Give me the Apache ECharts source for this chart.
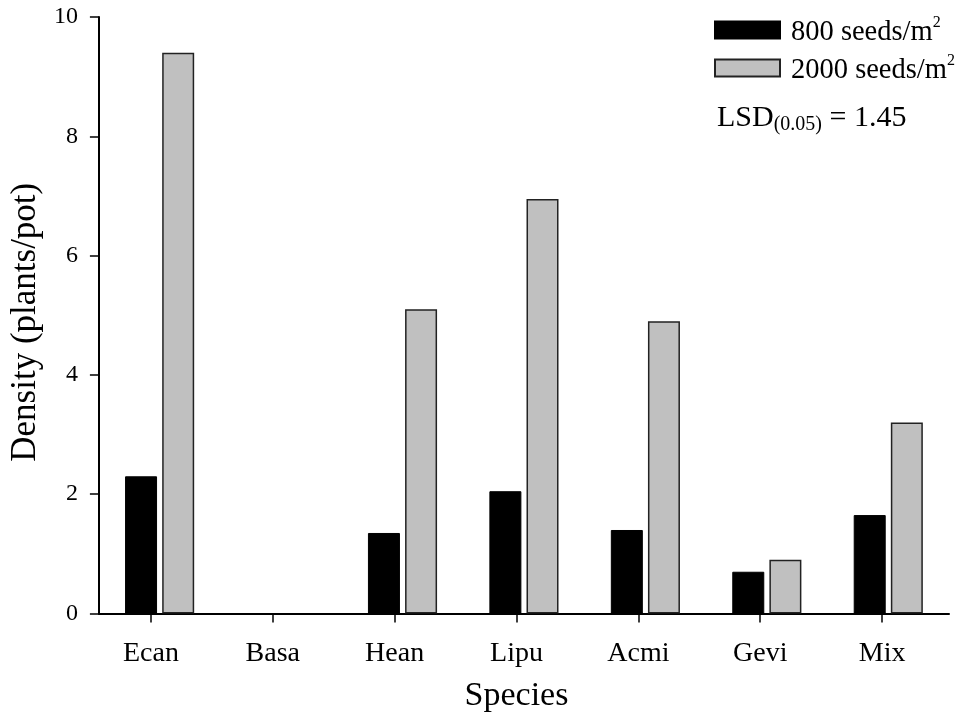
<!DOCTYPE html>
<html>
<head>
<meta charset="utf-8">
<script src="https://cdn.jsdelivr.net/npm/echarts@6/dist/echarts.min.js"></script>
<style>
  html, body { margin: 0; padding: 0; background: #fff; }
  #chart { width: 957px; height: 721px; }
</style>
</head>
<body>
<div id="chart"></div>
<script>
// Seedling density by species at two sowing rates
const categories = ['Ecan', 'Basa', 'Hean', 'Lipu', 'Acmi', 'Gevi', 'Mix'];
const lowRate = [2.3, 0, 1.35, 2.05, 1.4, 0.7, 1.65];   // 800 seeds/m²
const highRate = [9.4, 0, 5.1, 6.95, 4.9, 0.9, 3.2];    // 2000 seeds/m²
const seriesNames = ['800 seeds/m²', '2000 seeds/m²'];
const yTicks = { min: 0, max: 10, interval: 2 };
const lsdText = { label: 'LSD', sub: '(0.05)', value: ' = 1.45' };

const FONT = 'Liberation Serif, Times New Roman, serif';

const chart = echarts.init(document.getElementById('chart'), null, { renderer: 'canvas' });

const gridTop = 17, gridBottom = 107.5;

// zero-height bars get no outline
function barData(values) {
  return values.map(function (v) {
    return v === 0 ? { value: v, itemStyle: { borderWidth: 0 } } : v;
  });
}

chart.setOption({
  backgroundColor: '#ffffff',
  animation: false,
  textStyle: { fontFamily: FONT, color: '#000' },
  grid: [
    { left: 96, right: 8, top: gridTop, bottom: gridBottom },
    // tick/label grid, shifted slightly left of the bar groups
    { left: 90, right: 14, top: gridTop, bottom: gridBottom }
  ],
  legend: {
    orient: 'vertical',
    left: 709,
    top: 7.5,
    itemWidth: 65,
    itemHeight: 17,
    itemGap: 3,
    icon: 'rect',
    data: seriesNames,
    formatter: function (name) {
      return '{t|' + name.replace('²', '') + '}{s|2}';
    },
    textStyle: {
      fontFamily: FONT,
      color: '#000',
      rich: {
        t: { fontFamily: FONT, fontSize: 28.5, lineHeight: 30, color: '#000', padding: [6, 0, 0, 6] },
        s: { fontFamily: FONT, fontSize: 16, lineHeight: 13, verticalAlign: 'top', color: '#000' }
      }
    }
  },
  xAxis: [
    {
      type: 'category',
      gridIndex: 0,
      data: categories,
      axisLine: { show: true, lineStyle: { color: '#000', width: 2 } },
      axisTick: { show: false },
      axisLabel: { show: false }
    },
    {
      type: 'category',
      gridIndex: 1,
      data: categories,
      axisLine: { show: false },
      axisTick: { show: true, alignWithLabel: true, length: 9, lineStyle: { color: '#000', width: 1.5 } },
      axisLabel: { fontFamily: FONT, fontSize: 28, color: '#000', margin: 26 },
      name: 'Species',
      nameLocation: 'middle',
      nameGap: 66,
      nameTextStyle: { fontFamily: FONT, fontSize: 34, color: '#000' }
    }
  ],
  yAxis: [
    {
      type: 'value',
      gridIndex: 0,
      min: yTicks.min,
      max: yTicks.max,
      interval: yTicks.interval,
      axisLine: { show: true, lineStyle: { color: '#000', width: 2 } },
      axisTick: { show: true, inside: false, length: 9, lineStyle: { color: '#000', width: 1.5 } },
      axisLabel: { fontFamily: FONT, fontSize: 24, color: '#000', margin: 21 },
      splitLine: { show: false },
      name: 'Density (plants/pot)',
      nameLocation: 'middle',
      nameRotate: 90,
      nameGap: 52,
      nameTextStyle: { fontFamily: FONT, fontSize: 35, color: '#000', padding: [0, 14, 0, 0] }
    },
    {
      type: 'value',
      gridIndex: 1,
      min: yTicks.min,
      max: yTicks.max,
      show: false
    }
  ],
  series: [
    {
      name: seriesNames[0],
      type: 'bar',
      xAxisIndex: 0,
      yAxisIndex: 0,
      data: barData(lowRate),
      barWidth: 32,
      barGap: '16%',
      itemStyle: { color: '#000000', borderColor: '#000000', borderWidth: 1 }
    },
    {
      name: seriesNames[1],
      type: 'bar',
      xAxisIndex: 0,
      yAxisIndex: 0,
      data: barData(highRate),
      barWidth: 32,
      barGap: '16%',
      itemStyle: { color: '#c0c0c0', borderColor: '#222222', borderWidth: 1.5 }
    }
  ],
  graphic: [
    {
      type: 'text',
      left: 717,
      top: 103,
      style: {
        text: '{a|' + lsdText.label + '}{b|' + lsdText.sub + '}{a|' + lsdText.value + '}',
        fill: '#000',
        rich: {
          a: { fontFamily: FONT, fontSize: 30, lineHeight: 34, fill: '#000' },
          b: { fontFamily: FONT, fontSize: 20, lineHeight: 11, verticalAlign: 'bottom', fill: '#000' }
        }
      }
    }
  ]
});
</script>
</body>
</html>
